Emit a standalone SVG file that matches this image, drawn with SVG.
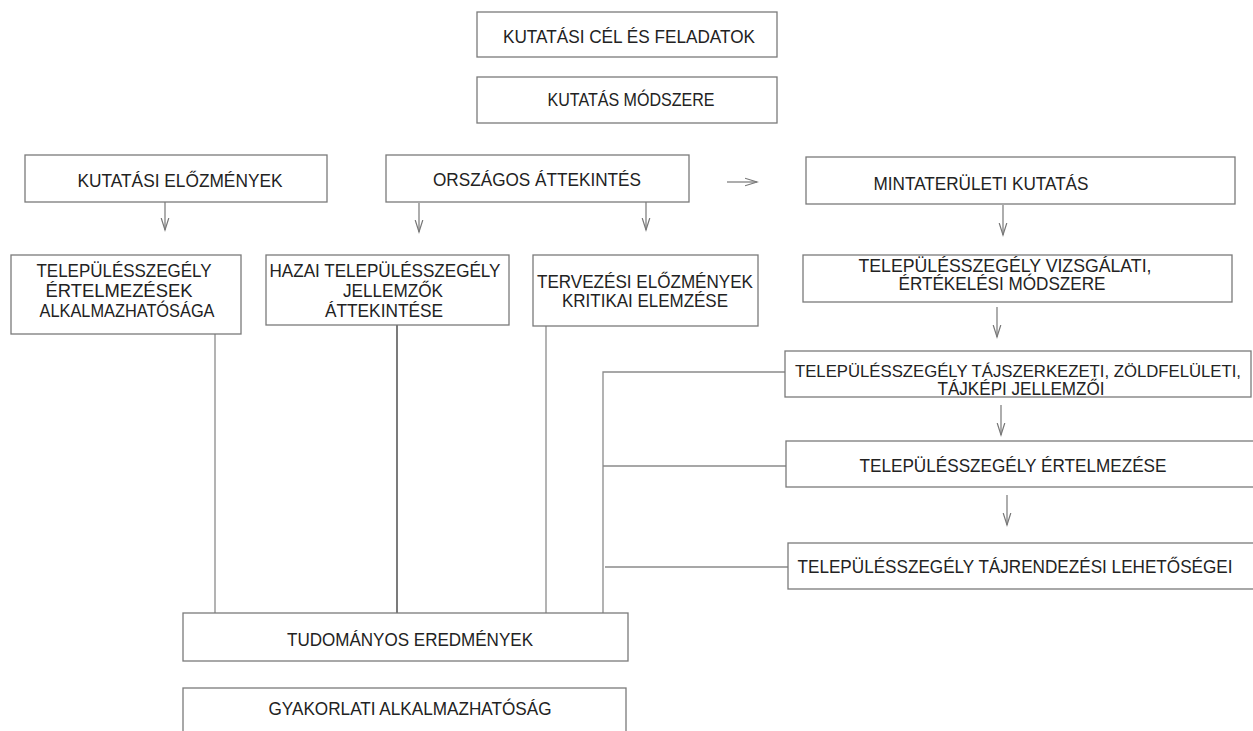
<svg xmlns="http://www.w3.org/2000/svg" width="1253" height="731" viewBox="0 0 1253 731">
<style>
.box{fill:#fff;stroke:#7a7a7a;stroke-width:1.3}
.t{font-family:"Liberation Sans",Arial,sans-serif;font-size:18px;fill:#222;text-anchor:middle}
.ln{fill:none;stroke:#8a8a8a;stroke-width:1.3}
.dk{stroke:#333}
.ar{fill:none;stroke:#777;stroke-width:1.2;marker-end:url(#ah)}
</style>
<defs>
<marker id="ah" markerUnits="userSpaceOnUse" markerWidth="14" markerHeight="12" viewBox="-12 -6 14 12" refX="0" refY="0" orient="auto">
<path d="M-12,-3.8 L0,0 L-12,3.8" fill="none" stroke="#777" stroke-width="1.2"/>
</marker>
</defs>
<rect width="1253" height="731" fill="#fff"/>
<g id="connectors">
<line class="ar" x1="165" y1="202" x2="165" y2="230"/>
<line class="ar" x1="419" y1="203" x2="419" y2="232"/>
<line class="ar" x1="646" y1="202" x2="646" y2="230"/>
<line class="ar" x1="727" y1="182" x2="757" y2="182"/>
<line class="ar" x1="1003" y1="205" x2="1003" y2="235"/>
<line class="ar" x1="997" y1="307" x2="997" y2="337"/>
<line class="ar" x1="1001" y1="405" x2="1001" y2="435"/>
<line class="ar" x1="1007" y1="495" x2="1007" y2="525"/>
<line class="ln" x1="215" y1="334" x2="215" y2="613"/>
<line class="ln dk" x1="397" y1="325" x2="397" y2="613"/>
<line class="ln" x1="546" y1="326" x2="546" y2="613"/>
<polyline class="ln" points="785,372 603,372 603,613"/>
<line class="ln" x1="603" y1="466" x2="789" y2="466"/>
<line class="ln" x1="605" y1="567" x2="790" y2="567"/>
</g>
<g id="n-cel"><rect class="box" x="477" y="12" width="300" height="45"/><text class="t" x="629" y="43" textLength="252" lengthAdjust="spacingAndGlyphs">KUTATÁSI CÉL ÉS FELADATOK</text></g>
<g id="n-modszer"><rect class="box" x="477" y="77" width="300" height="46"/><text class="t" x="631" y="106" textLength="167" lengthAdjust="spacingAndGlyphs">KUTATÁS MÓDSZERE</text></g>
<g id="n-elozmenyek"><rect class="box" x="25" y="155" width="302" height="47"/><text class="t" x="180" y="187" textLength="205" lengthAdjust="spacingAndGlyphs">KUTATÁSI ELŐZMÉNYEK</text></g>
<g id="n-orszagos"><rect class="box" x="386" y="155" width="303" height="47"/><text class="t" x="537" y="186" textLength="208" lengthAdjust="spacingAndGlyphs">ORSZÁGOS ÁTTEKINTÉS</text></g>
<g id="n-minta"><rect class="box" x="806" y="157" width="429" height="47"/><text class="t" x="981" y="190" textLength="215" lengthAdjust="spacingAndGlyphs">MINTATERÜLETI KUTATÁS</text></g>
<g id="n-ertelmezesek"><rect class="box" x="11" y="255" width="230" height="79"/><text class="t" x="124" y="277" textLength="175" lengthAdjust="spacingAndGlyphs">TELEPÜLÉSSZEGÉLY</text><text class="t" x="119" y="297" textLength="147" lengthAdjust="spacingAndGlyphs">ÉRTELMEZÉSEK</text><text class="t" x="127" y="317" textLength="175" lengthAdjust="spacingAndGlyphs">ALKALMAZHATÓSÁGA</text></g>
<g id="n-hazai"><rect class="box" x="266" y="255" width="243" height="70"/><text class="t" x="385" y="277" textLength="231" lengthAdjust="spacingAndGlyphs">HAZAI TELEPÜLÉSSZEGÉLY</text><text class="t" x="393" y="297" textLength="100" lengthAdjust="spacingAndGlyphs">JELLEMZŐK</text><text class="t" x="384" y="317" textLength="118" lengthAdjust="spacingAndGlyphs">ÁTTEKINTÉSE</text></g>
<g id="n-tervezesi"><rect class="box" x="533" y="255" width="225" height="71"/><text class="t" x="645" y="288" textLength="216" lengthAdjust="spacingAndGlyphs">TERVEZÉSI ELŐZMÉNYEK</text><text class="t" x="645" y="307" textLength="166" lengthAdjust="spacingAndGlyphs">KRITIKAI ELEMZÉSE</text></g>
<g id="n-vizsgalati"><rect class="box" x="803" y="255" width="429" height="47"/><text class="t" x="1005" y="272" textLength="293" lengthAdjust="spacingAndGlyphs">TELEPÜLÉSSZEGÉLY VIZSGÁLATI,</text><text class="t" x="1002" y="290" textLength="207" lengthAdjust="spacingAndGlyphs">ÉRTÉKELÉSI MÓDSZERE</text></g>
<g id="n-tajszerkezeti"><rect class="box" x="785" y="351" width="466" height="46"/><text class="t" x="1018" y="377" style="font-size:16.5px" textLength="446" lengthAdjust="spacingAndGlyphs">TELEPÜLÉSSZEGÉLY TÁJSZERKEZETI, ZÖLDFELÜLETI,</text><text class="t" x="1021" y="395" textLength="167" lengthAdjust="spacingAndGlyphs">TÁJKÉPI JELLEMZŐI</text></g>
<g id="n-ertelmezese"><rect class="box" x="786" y="441" width="480" height="46"/><text class="t" x="1013" y="472" textLength="307" lengthAdjust="spacingAndGlyphs">TELEPÜLÉSSZEGÉLY ÉRTELMEZÉSE</text></g>
<g id="n-tajrendezesi"><rect class="box" x="788" y="543" width="480" height="46"/><text class="t" x="1015" y="573" textLength="435" lengthAdjust="spacingAndGlyphs">TELEPÜLÉSSZEGÉLY TÁJRENDEZÉSI LEHETŐSÉGEI</text></g>
<g id="n-tudomanyos"><rect class="box" x="183" y="613" width="445" height="48"/><text class="t" x="410" y="646" textLength="246" lengthAdjust="spacingAndGlyphs">TUDOMÁNYOS EREDMÉNYEK</text></g>
<g id="n-gyakorlati"><rect class="box" x="183" y="688" width="443" height="60"/><text class="t" x="410" y="715" textLength="283" lengthAdjust="spacingAndGlyphs">GYAKORLATI ALKALMAZHATÓSÁG</text></g>
</svg>
